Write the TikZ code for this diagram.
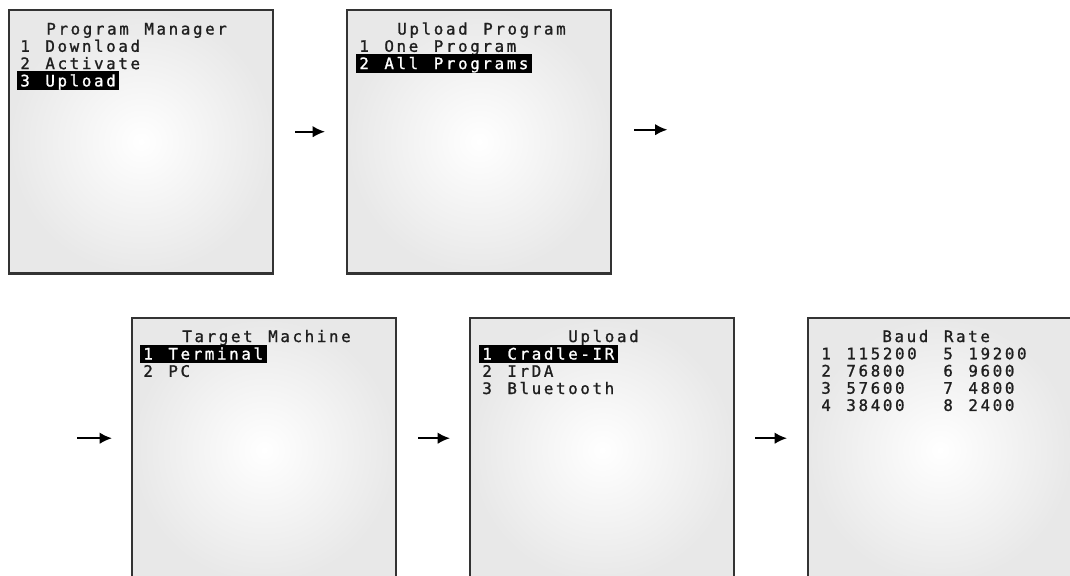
\documentclass[tikz,border=0pt]{standalone}
\usepackage{fontspec}
\newfontfamily\lcdfont[LetterSpace=16.7, WordSpace=1.277, FakeBold=1.2]{DejaVu Sans Mono}
\usetikzlibrary{arrows.meta, positioning, calc}
\tikzset{
    screen/.style={rectangle, draw=black!80, line width=1.4pt, inner color=white, outer color=black!9, minimum width=5.28cm, minimum height=5.28cm, anchor=north west},
    lcdtext/.style={font=\lcdfont\fontsize{9}{10}\selectfont, text=black!88, inner sep=0pt, anchor=base west},
    hilite/.style={lcdtext, fill=black, text=white, inner xsep=2pt, inner ysep=0.5pt, text height=8pt, text depth=1.5pt},
    arrow/.style={-{Latex[length=7pt, width=6.5pt]}, line width=1.1pt}
}
\begin{document}
\begin{tikzpicture}[x=0.02cm, y=-0.02cm]
    \useasboundingbox (0,0) rectangle (1070,575);
    \clip (0,0) rectangle (1070,575);

    % top row
    \node (s1) [screen] at (8,8.5) {};
    \node (s1t) [lcdtext] at ($(s1.north west)+(38,26)$) {Program Manager};
    \node (s1a) [lcdtext] at ($(s1.north west)+(12,43.3)$) {1 Download};
    \node (s1b) [lcdtext] at ($(s1.north west)+(12,60.6)$) {2 Activate};
    \node (s1c) [hilite] at ($(s1.north west)+(8.5,77.9)$) {3 Upload};

    \node (s2) [screen] at (346,8.5) {};
    \node (s2t) [lcdtext] at ($(s2.north west)+(51,26)$) {Upload Program};
    \node (s2a) [lcdtext] at ($(s2.north west)+(13,43.3)$) {1 One Program};
    \node (s2b) [hilite] at ($(s2.north west)+(9.5,60.6)$) {2 All Programs};

    % bottom row
    \node (s3) [screen] at (131,317) {};
    \node (s3t) [lcdtext] at ($(s3.north west)+(51,25)$) {Target Machine};
    \node (s3a) [hilite] at ($(s3.north west)+(8.5,42.5)$) {1 Terminal};
    \node (s3b) [lcdtext] at ($(s3.north west)+(12,59.8)$) {2 PC};

    \node (s4) [screen] at (469,317) {};
    \node (s4t) [lcdtext] at ($(s4.north west)+(99,25)$) {Upload};
    \node (s4a) [hilite] at ($(s4.north west)+(9.5,42.5)$) {1 Cradle-IR};
    \node (s4b) [lcdtext] at ($(s4.north west)+(13,59.8)$) {2 IrDA};
    \node (s4c) [lcdtext] at ($(s4.north west)+(13,77)$) {3 Bluetooth};

    \node (s5) [screen] at (807,317) {};
    \node (s5t) [lcdtext] at ($(s5.north west)+(75,25)$) {Baud Rate};
    \node (s5a) [lcdtext] at ($(s5.north west)+(14,42.3)$) {1 115200};
    \node (s5b) [lcdtext] at ($(s5.north west)+(14,59.5)$) {2 76800};
    \node (s5c) [lcdtext] at ($(s5.north west)+(14,76.7)$) {3 57600};
    \node (s5d) [lcdtext] at ($(s5.north west)+(14,93.9)$) {4 38400};
    \node (s5e) [lcdtext] at ($(s5.north west)+(136,42.3)$) {5 19200};
    \node (s5f) [lcdtext] at ($(s5.north west)+(136,59.5)$) {6 9600};
    \node (s5g) [lcdtext] at ($(s5.north west)+(136,76.7)$) {7 4800};
    \node (s5h) [lcdtext] at ($(s5.north west)+(136,93.9)$) {8 2400};

    \draw [arrow] ($(s1.east)+(21,-10)$) -- ($(s2.west)+(-21,-10)$);
    \draw [arrow] ($(s2.east)+(22,-12)$) -- ++(33,0);
    \draw [arrow] ($(s3.west)+(-54,-12)$) -- ($(s3.west)+(-19,-12)$);
    \draw [arrow] ($(s3.east)+(21,-12)$) -- ($(s4.west)+(-19,-12)$);
    \draw [arrow] ($(s4.east)+(20,-12)$) -- ($(s5.west)+(-20,-12)$);
\end{tikzpicture}
\end{document}
